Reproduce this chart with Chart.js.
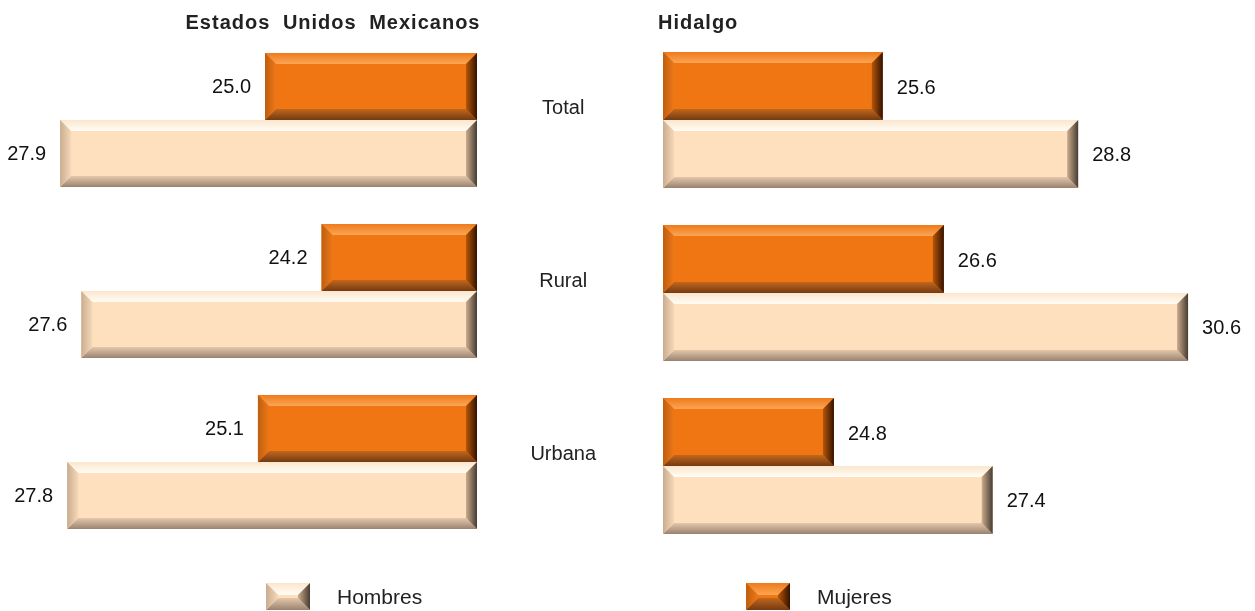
<!DOCTYPE html>
<html><head><meta charset="utf-8">
<script src="https://cdn.jsdelivr.net/npm/chart.js@4/dist/chart.umd.min.js"></script>
<style>
html,body{margin:0;padding:0;background:#fff;}
#wrap{position:relative;width:1255px;height:611px;overflow:hidden;}
#wrap canvas{position:absolute;left:0;top:0;}
</style></head>
<body><div id="wrap"><canvas id="cMex" width="1255" height="611"></canvas><canvas id="cHgo" width="1255" height="611"></canvas></div>
<script>
// ---- data ----
const categories = ['Total', 'Rural', 'Urbana'];
const seriesNames = ['Hombres', 'Mujeres'];
const mexHombres = [27.9, 27.6, 27.8];
const mexMujeres = [25.0, 24.2, 25.1];
const hgoHombres = [28.8, 30.6, 27.4];
const hgoMujeres = [25.6, 26.6, 24.8];
const panelTitles = ['Estados Unidos Mexicanos', 'Hidalgo'];
const axisStart = 22;

// ---- styles ----
const FONT = '"Liberation Sans", Arial, Helvetica, sans-serif';
const STY = {
  Hombres: {fill: '#FEE0BF', top: ['#FBE6CC', '#FFFDF6'], bottom: ['#9A8270', '#E4C8AA'],
            left: ['#C9AD90', '#F6D8B8'], right: ['#463C33', '#CBAC8C']},
  Mujeres: {fill: '#F07613', top: ['#EE7A1C', '#FCA553'], bottom: ['#743A12', '#C2671C'],
            left: ['#BE5E0E', '#EE7818'], right: ['#341200', '#B65608']}
};

function poly(ctx, pts, fill) {
  ctx.beginPath();
  ctx.moveTo(pts[0][0], pts[0][1]);
  for (let i = 1; i < pts.length; i++) ctx.lineTo(pts[i][0], pts[i][1]);
  ctx.closePath();
  ctx.fillStyle = fill;
  ctx.fill();
}
function grad(ctx, x0, y0, x1, y1, c) {
  const g = ctx.createLinearGradient(x0, y0, x1, y1);
  g.addColorStop(0, c[0]); g.addColorStop(1, c[1]);
  return g;
}
function bevel(ctx, l, t, r, b, st, size) {
  const s = Math.min(size, (b - t) / 2, (r - l) / 2);
  ctx.save();
  poly(ctx, [[l, t], [r, t], [r - s, t + s], [l + s, t + s]], grad(ctx, 0, t, 0, t + s, st.top));
  poly(ctx, [[l, b], [r, b], [r - s, b - s], [l + s, b - s]], grad(ctx, 0, b, 0, b - s, st.bottom));
  poly(ctx, [[l, t], [l + s, t + s], [l + s, b - s], [l, b]], grad(ctx, l, 0, l + s, 0, st.left));
  poly(ctx, [[r, t], [r - s, t + s], [r - s, b - s], [r, b]], grad(ctx, r, 0, r - s, 0, st.right));
  ctx.restore();
}

const decoPlugin = {
  id: 'deco',
  afterDatasetsDraw(chart, args, opts) {
    const ctx = chart.ctx;
    const ca = chart.chartArea;
    chart.data.datasets.forEach((ds, i) => {
      const meta = chart.getDatasetMeta(i);
      const st = STY[ds.label];
      meta.data.forEach((el, j) => {
        const p = el.getProps(['x', 'y', 'base', 'height'], true);
        const l = Math.max(ca.left, Math.min(p.x, p.base));
        const r = Math.min(ca.right, Math.max(p.x, p.base));
        const t = p.y - p.height / 2, b = p.y + p.height / 2;
        bevel(ctx, l, t, r, b, st, 11);
        ctx.save();
        ctx.font = '20px ' + FONT;
        ctx.fillStyle = '#111';
        ctx.textBaseline = 'middle';
        const txt = ds.data[j].toFixed(1);
        if (opts.side === 'left') { ctx.textAlign = 'right'; ctx.fillText(txt, l - 14, p.y + 1); }
        else { ctx.textAlign = 'left'; ctx.fillText(txt, r + 14, p.y + 2); }
        ctx.restore();
      });
    });
    // title
    ctx.save();
    ctx.font = 'bold 20px ' + FONT;
    ctx.fillStyle = '#222';
    ctx.textBaseline = 'middle';
    ctx.letterSpacing = '1px';
    ctx.wordSpacing = '6px';
    ctx.textAlign = opts.titleAlign;
    ctx.fillText(opts.title, opts.titleX, 23);
    ctx.restore();
    // legend items
    (opts.legend || []).forEach(it => {
      const ds = chart.data.datasets.find(d => d.label === it.name);
      const st = STY[ds.label];
      ctx.save();
      ctx.fillStyle = st.fill;
      ctx.fillRect(it.x, 583, 44, 27);
      bevel(ctx, it.x, 583, it.x + 44, 610, st, 12);
      ctx.font = '21px ' + FONT;
      ctx.fillStyle = '#222';
      ctx.textBaseline = 'middle';
      ctx.textAlign = 'left';
      ctx.fillText(ds.label, it.x + 71, 598);
      ctx.restore();
    });
  }
};

function mkData(h, m) {
  return {
    labels: categories,
    datasets: [
      {label: seriesNames[1], data: m, backgroundColor: STY.Mujeres.fill, borderWidth: 0},
      {label: seriesNames[0], data: h, backgroundColor: STY.Hombres.fill, borderWidth: 0}
    ]
  };
}

new Chart(document.getElementById('cMex'), {
  type: 'bar',
  data: mkData(mexHombres, mexMujeres),
  plugins: [decoPlugin],
  options: {
    indexAxis: 'y', responsive: false, animation: false,
    layout: {padding: {left: 53, right: 778, top: 34.5, bottom: 63.5}},
    datasets: {bar: {categoryPercentage: 0.785, barPercentage: 1, base: axisStart}},
    scales: {
      x: {display: false, reverse: true, min: axisStart, max: 28},
      y: {display: false}
    },
    plugins: {
      legend: {display: false}, tooltip: {enabled: false},
      deco: {side: 'left', title: panelTitles[0], titleX: 333, titleAlign: 'center',
             legend: [{name: 'Hombres', x: 266}]}
    }
  }
});

new Chart(document.getElementById('cHgo'), {
  type: 'bar',
  data: mkData(hgoHombres, hgoMujeres),
  plugins: [decoPlugin],
  options: {
    indexAxis: 'y', responsive: false, animation: false,
    layout: {padding: {left: 480, right: 42.5, top: 33.5, bottom: 58.5}},
    datasets: {bar: {categoryPercentage: 0.785, barPercentage: 1, base: axisStart}},
    scales: {
      x: {display: false, min: axisStart, max: 31},
      y: {
        position: 'left',
        grid: {display: false}, border: {display: false},
        ticks: {crossAlign: 'center', padding: 59, labelOffset: -12, color: '#222',
                font: {family: FONT, size: 20}},
        afterFit(s) { s.width = 183; s.paddingTop = 0; s.paddingBottom = 0; }
      }
    },
    plugins: {
      legend: {display: false}, tooltip: {enabled: false},
      deco: {side: 'right', title: panelTitles[1], titleX: 658, titleAlign: 'left',
             legend: [{name: 'Mujeres', x: 746}]}
    }
  }
});
</script>
</body></html>
